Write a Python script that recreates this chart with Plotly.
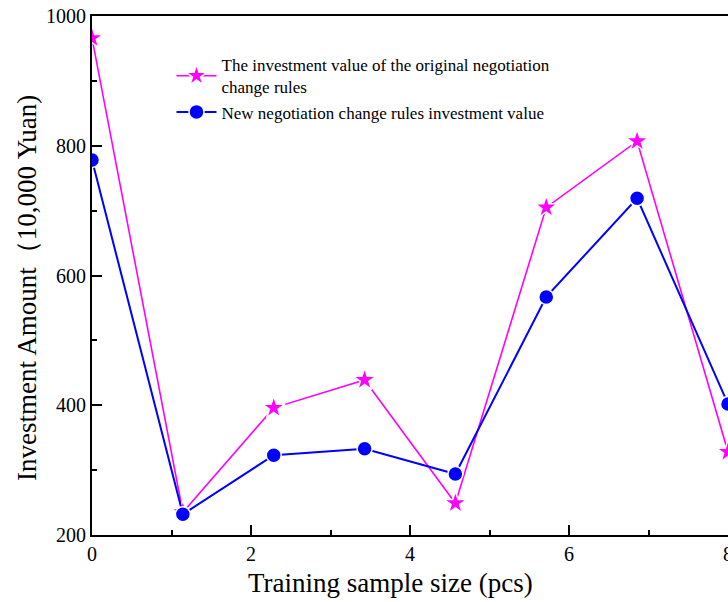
import plotly.graph_objects as go

x_vals = [0, 1.143, 2.286, 3.429, 4.571, 5.714, 6.857, 8.0]
original_vals = [966, 235, 396, 439, 249, 705, 807, 328]
new_vals = [778, 232, 323, 333, 294, 567, 719, 402]

name_original = "The investment value of the original negotiation<br>change rules"
name_new = "New negotiation change rules investment value"
x_title = "Training sample size (pcs)"
y_title = "Investment Amount（10,000 Yuan)"

fig = go.Figure()
fig.add_trace(go.Scatter(
    x=x_vals, y=original_vals, mode="lines+markers", name=name_original,
    line=dict(color="#FF00FF", width=1.6),
    marker=dict(symbol="star", size=17, color="#FF00FF", line=dict(color="white", width=1.5)),
))
fig.add_trace(go.Scatter(
    x=x_vals, y=new_vals, mode="lines+markers", name=name_new,
    line=dict(color="#0000FF", width=2),
    marker=dict(symbol="circle", size=15, color="#0000FF", line=dict(color="white", width=1.5)),
))

axis_font = dict(family="Liberation Serif", size=20, color="black")
fig.update_layout(
    width=728, height=602,
    margin=dict(l=92, r=0, t=16, b=67),
    plot_bgcolor="white", paper_bgcolor="white",
    font=dict(family="Liberation Serif", color="black"),
    showlegend=True,
    legend=dict(x=0.125, y=0.94, xanchor="left", yanchor="top",
                bgcolor="rgba(0,0,0,0)", font=dict(family="Liberation Serif", size=17, color="black"),
                tracegroupgap=0, itemwidth=40),
    xaxis=dict(range=[0, 8], dtick=2, tick0=0, showgrid=False, zeroline=False, automargin=False,
               ticklabeloverflow="allow",
               showline=True, linecolor="black", linewidth=2, mirror=True,
               ticks="inside", ticklen=10, tickwidth=2, tickcolor="black",
               minor=dict(ticks="inside", ticklen=5, dtick=1, tickwidth=2, tickcolor="black", showgrid=False),
               tickfont=axis_font),
    yaxis=dict(range=[200, 1000], dtick=200, tick0=200, showgrid=False, zeroline=False, automargin=False,
               ticklabeloverflow="allow",
               showline=True, linecolor="black", linewidth=2, mirror=False,
               ticks="inside", ticklen=10, tickwidth=2, tickcolor="black",
               minor=dict(ticks="inside", ticklen=5, dtick=100, tickwidth=2, tickcolor="black", showgrid=False),
               tickfont=axis_font),
    annotations=[
        dict(text=x_title, xref="paper", yref="paper", x=0.470, y=-0.0925,
             xanchor="center", yanchor="middle", showarrow=False,
             font=dict(family="Liberation Serif", size=27, color="black")),
        dict(text=y_title, xref="paper", yref="paper", x=-0.102, y=0.476,
             xanchor="center", yanchor="middle", showarrow=False, textangle=-90,
             font=dict(family="Liberation Serif", size=27, color="black")),
    ],
)

fig.write_html(
    "out.html",
    config={"displayModeBar": False},
    post_script="document.body.style.margin='0';document.body.style.overflow='hidden';",
)
